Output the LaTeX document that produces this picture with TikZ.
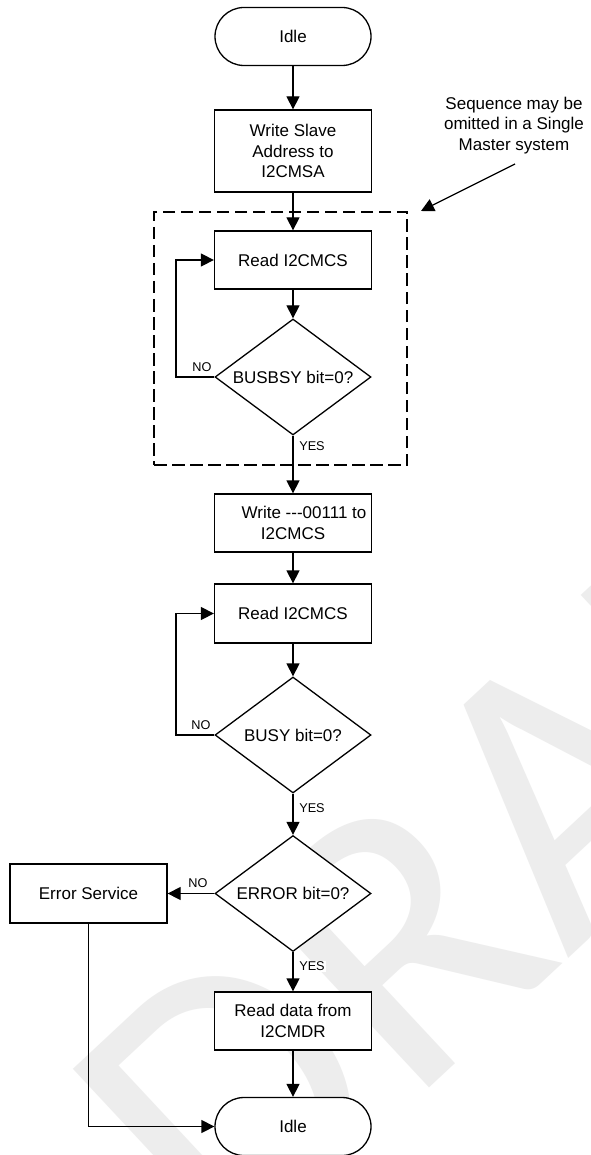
\documentclass[tikz,border=0pt]{standalone}
\usepackage{fontspec}
\setmainfont{Liberation Sans}
\newfontfamily\wmfont{Carlito}
\usetikzlibrary{arrows.meta,shapes.geometric}
\definecolor{wm}{HTML}{EDEDED}
\begin{document}
\begin{tikzpicture}[x=1pt,y=-1pt,
  line width=1.3pt,
  >={Triangle[length=13pt,width=13pt]},
  box/.style={draw,fill=white,minimum width=157pt,minimum height=58pt,inner sep=0pt,align=center,font=\fontsize{17}{20.5}\selectfont},
  term/.style={box,rounded corners=29pt,minimum width=156pt,minimum height=58pt},
  dec/.style={draw,fill=white,diamond,minimum width=156pt,minimum height=116pt,inner sep=0pt,font=\fontsize{17}{20.5}\selectfont},
  lbl/.style={fill=white,font=\fontsize{12.7}{14}\selectfont,inner sep=1pt},
  dashbox/.style={draw,dash pattern=on 12.5pt off 5.5pt,minimum width=253pt,minimum height=253pt,inner sep=0pt}
]
\useasboundingbox (0,0) rectangle (590,1155);
\fill[white] (0,0) rectangle (590,1155);
% watermark
\begin{scope}
\clip (0,0) rectangle (590,1155);
\node[anchor=base west,rotate=43,inner sep=0pt,text=wm,font=\wmfont\fontsize{400}{400}\selectfont] (wmark) at (228,1276) {DRAFT};
\end{scope}

\node[dashbox] (seq) at (280.5,338.5) {};

\node[term] (idle1) at (293,36.5) {Idle};
\node[box,minimum height=82pt] (wsa) at (293,151) {Write Slave\\Address to\\I2CMSA};
\node[box] (rd1) at (293,260) {Read I2CMCS};
\node[dec] (busbsy) at (293,377) {\makebox[0pt]{BUSBSY bit=0?}};
\node[box] (wr) at (293,523) {\hspace*{22pt}Write \mbox{-}\mbox{-}\mbox{-}00111 to\\I2CMCS};
\node[box,minimum height=59pt] (rd2) at (293,613.5) {Read I2CMCS};
\node[dec] (busy) at (293,735) {\makebox[0pt]{BUSY bit=0?}};
\node[dec] (error) at (293,893.5) {\makebox[0pt]{ERROR bit=0?}};
\node[box,minimum height=59pt] (errsvc) at (88.5,893.5) {Error Service};
\node[box] (rdd) at (293,1021) {Read data from\\I2CMDR};
\node[term] (idle2) at (293,1126.5) {Idle};

\node[align=center,font=\fontsize{17}{20.5}\selectfont] (note) at (514,125.5) {Sequence may be\\omitted in a Single\\Master system};
\coordinate (nstart) at (515,164);
\coordinate (ntip) at (421,211);
\draw[->] (nstart) -- (ntip);

\draw[->] (idle1) -- (wsa);
\draw[->] (wsa) -- (rd1);
\draw[->] (rd1) -- (busbsy);
\draw[->] (busbsy.west) -| ([xshift=-38pt]rd1.west) -- (rd1.west);
\draw[->] (busbsy) -- (wr);
\draw[->] (wr) -- (rd2);
\draw[->] (rd2) -- (busy);
\draw[->] (busy.west) -| ([xshift=-38pt]rd2.west) -- (rd2.west);
\draw[->] (busy) -- (error);
\draw[->] (error) -- (errsvc);
\draw[->] (error) -- (rdd);
\draw[->] (rdd) -- (idle2);
\draw[->] (errsvc.south) |- (idle2.west);

\node[lbl] (no1) at (202,367) {NO};
\node[lbl] (yes1) at (312,446) {YES};
\node[lbl] (no2) at (201,725) {NO};
\node[lbl] (yes2) at (312,808) {YES};
\node[lbl] (no3) at (198,883) {NO};
\node[lbl] (yes3) at (312,966) {YES};
\end{tikzpicture}
\end{document}
